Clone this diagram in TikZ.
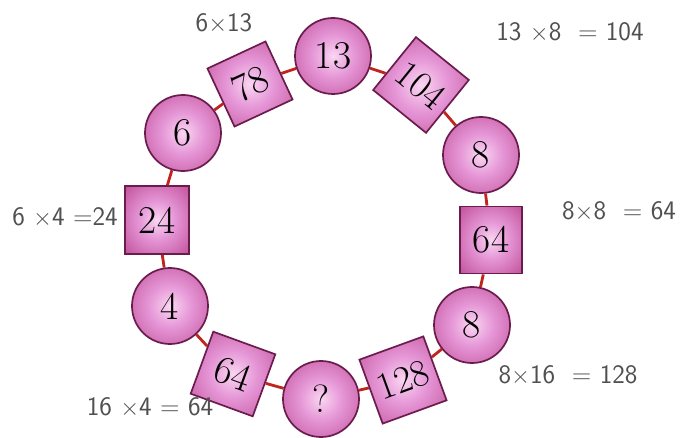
\documentclass[tikz,border=0pt]{standalone}
\usepackage{tikz}
\usetikzlibrary{positioning}
\definecolor{ringlight}{HTML}{FAD6F2}
\definecolor{ringmid}{HTML}{E596D6}
\definecolor{ringdark}{HTML}{C4569F}
\definecolor{ringedge}{HTML}{6A1C4C}
\definecolor{ringlink}{HTML}{C0241E}
\definecolor{notegray}{HTML}{505050}
\pgfdeclareradialshading{rgglow}{\pgfpoint{0bp}{0bp}}{color(0bp)=(ringlight); color(14bp)=(ringmid); color(34bp)=(ringdark); color(50bp)=(ringdark)}

\begin{document}
\begin{tikzpicture}[x=0.025cm,y=-0.025cm,
    rgball/.style={circle,draw=ringedge,line width=1.2pt,shading=rgglow,
        minimum size=1.9cm,inner sep=0pt,font=\fontsize{28}{30}\selectfont},
    rgsquare/.style={rgball,rectangle,minimum size=1.65cm},
    rglink/.style={draw=ringlink,line width=2pt},
    rgnote/.style={font=\sffamily\fontsize{19}{21}\selectfont,text=notegray,inner sep=0pt}
]
\useasboundingbox (0,0) rectangle (688,438);
\node[rgball] (n13) at (333,56) {13};
\node[rgsquare,rotate=-39,minimum size=1.7cm,font=\fontsize{27}{29}\selectfont] (s104) at (421,85) {104};
\node[rgball] (n8a) at (481,155) {8};
\node[rgsquare,minimum width=1.55cm,minimum height=1.68cm] (s64a) at (491,240) {64};
\node[rgball] (n8b) at (472,325) {8};
\node[rgsquare,rotate=20,minimum size=1.7cm,font=\fontsize{27}{29}\selectfont] (s128) at (403,380) {128};
\node[rgball] (nq) at (321,399) {?};
\node[rgsquare,rotate=-20] (s64b) at (233,374) {64};
\node[rgball] (n4) at (170,306) {4};
\node[rgsquare,minimum width=1.6cm,minimum height=1.7cm] (s24) at (157,220) {24};
\node[rgball] (n6) at (183,133) {6};
\node[rgsquare,rotate=25,minimum size=1.6cm] (s78) at (250,84) {78};
\draw[rglink] (n13)--(s104);
\draw[rglink] (s104)--(n8a);
\draw[rglink] (n8a)--(s64a);
\draw[rglink] (s64a)--(n8b);
\draw[rglink] (n8b)--(s128);
\draw[rglink] (s128)--(nq);
\draw[rglink] (nq)--(s64b);
\draw[rglink] (s64b)--(n4);
\draw[rglink] (n4)--(s24);
\draw[rglink] (s24)--(n6);
\draw[rglink] (n6)--(s78);
\draw[rglink] (s78)--(n13);
\node[rgnote] (m78) at (224,24) {6$\times$13};
\node[rgnote] (m104) at (570,33) {13 $\times$8 \ = 104};
\node[rgnote] (m64a) at (619,212) {8$\times$8 \ = 64};
\node[rgnote] (m24) at (65,218) {6 $\times$4 =24};
\node[rgnote] (m128) at (568,376) {8$\times$16 \ = 128};
\node[rgnote] (m64b) at (150,408) {16 $\times$4 = 64};
\end{tikzpicture}
\end{document}
